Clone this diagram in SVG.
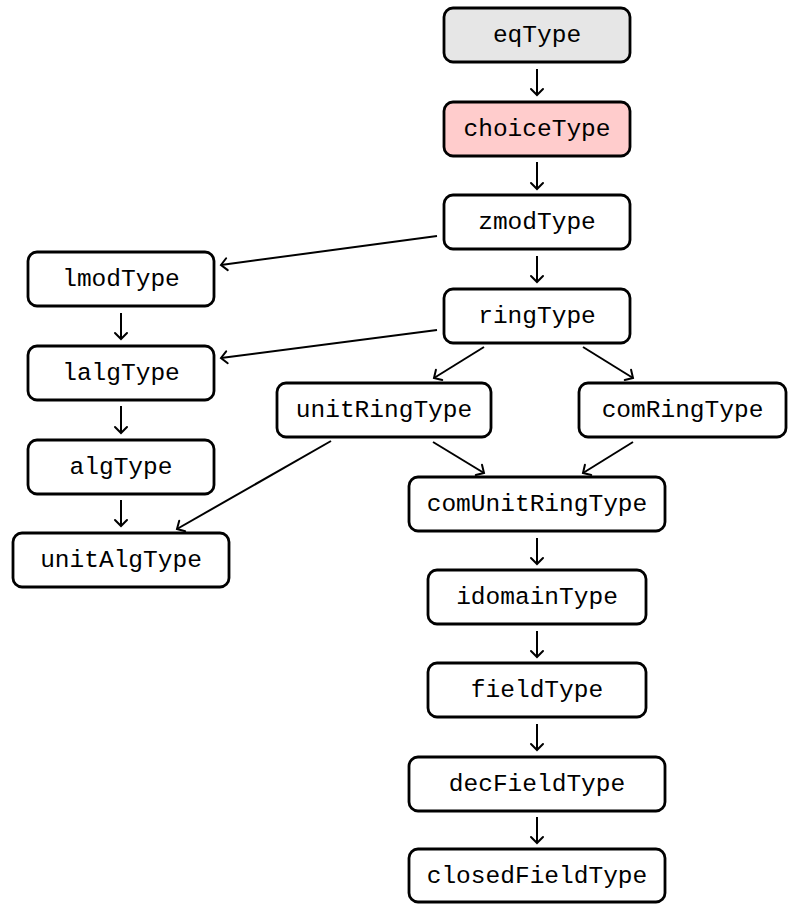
<svg xmlns="http://www.w3.org/2000/svg" width="789" height="904" viewBox="0 0 789 904">
<style>
.n rect{fill:#fff;stroke:#000;stroke-width:2.8}
.n text{font-family:"Liberation Mono","DejaVu Sans Mono",monospace;font-size:24.5px;text-anchor:middle;fill:#000}
#edges line{stroke:#000;stroke-width:2;fill:none;marker-end:url(#ah)}
</style>
<defs>
<marker id="ah" markerUnits="userSpaceOnUse" viewBox="-8 -8 10 16" refX="0" refY="0" markerWidth="10" markerHeight="16" orient="auto" overflow="visible">
<path d="M -6,-6 Q -1.5,-1.5 0,0 Q -1.5,1.5 -6,6" fill="none" stroke="#000" stroke-width="2" stroke-linecap="round"/>
</marker>
</defs>
<rect width="789" height="904" fill="#fff"/>
<g id="edges">
<line x1="537" y1="69" x2="537" y2="95"/>
<line x1="537" y1="162" x2="537" y2="189"/>
<line x1="537" y1="256" x2="537" y2="282"/>
<line x1="537" y1="538" x2="537" y2="564"/>
<line x1="537" y1="631" x2="537" y2="657"/>
<line x1="537" y1="724" x2="537" y2="750"/>
<line x1="537" y1="817" x2="537" y2="843"/>
<line x1="121" y1="313" x2="121" y2="339"/>
<line x1="121" y1="406" x2="121" y2="433"/>
<line x1="121" y1="500" x2="121" y2="526"/>
<line x1="437" y1="236" x2="221" y2="265"/>
<line x1="437" y1="330" x2="221" y2="358"/>
<line x1="484" y1="347" x2="434" y2="378"/>
<line x1="583" y1="347" x2="633" y2="378"/>
<line x1="433" y1="442" x2="484" y2="473"/>
<line x1="633" y1="442" x2="583" y2="473"/>
<line x1="331" y1="441" x2="177" y2="529"/>
</g>
<g id="eqType" class="n"><rect x="444" y="8" width="186" height="54" rx="9" style="fill:#e6e6e6"/><text x="537" y="42">eqType</text></g>
<g id="choiceType" class="n"><rect x="444" y="102" width="186" height="54" rx="9" style="fill:#ffcccc"/><text x="537" y="136">choiceType</text></g>
<g id="zmodType" class="n"><rect x="444" y="195" width="186" height="54" rx="9"/><text x="537" y="229">zmodType</text></g>
<g id="ringType" class="n"><rect x="444" y="289" width="186" height="54" rx="9"/><text x="537" y="323">ringType</text></g>
<g id="lmodType" class="n"><rect x="28" y="252" width="186" height="54" rx="9"/><text x="121" y="286">lmodType</text></g>
<g id="lalgType" class="n"><rect x="28" y="346" width="186" height="54" rx="9"/><text x="121" y="380">lalgType</text></g>
<g id="algType" class="n"><rect x="28" y="440" width="186" height="54" rx="9"/><text x="121" y="474">algType</text></g>
<g id="unitAlgType" class="n"><rect x="13" y="533" width="216" height="54" rx="9"/><text x="121" y="567">unitAlgType</text></g>
<g id="unitRingType" class="n"><rect x="277" y="383" width="214" height="54" rx="9"/><text x="384" y="417">unitRingType</text></g>
<g id="comRingType" class="n"><rect x="579" y="383" width="207" height="54" rx="9"/><text x="682.5" y="417">comRingType</text></g>
<g id="comUnitRingType" class="n"><rect x="409" y="477" width="256" height="54" rx="9"/><text x="537" y="511">comUnitRingType</text></g>
<g id="idomainType" class="n"><rect x="428" y="570" width="218" height="54" rx="9"/><text x="537" y="604">idomainType</text></g>
<g id="fieldType" class="n"><rect x="428" y="663" width="218" height="54" rx="9"/><text x="537" y="697">fieldType</text></g>
<g id="decFieldType" class="n"><rect x="409" y="757" width="256" height="54" rx="9"/><text x="537" y="791">decFieldType</text></g>
<g id="closedFieldType" class="n"><rect x="409" y="849" width="256" height="53" rx="9"/><text x="537" y="883">closedFieldType</text></g>
</svg>
